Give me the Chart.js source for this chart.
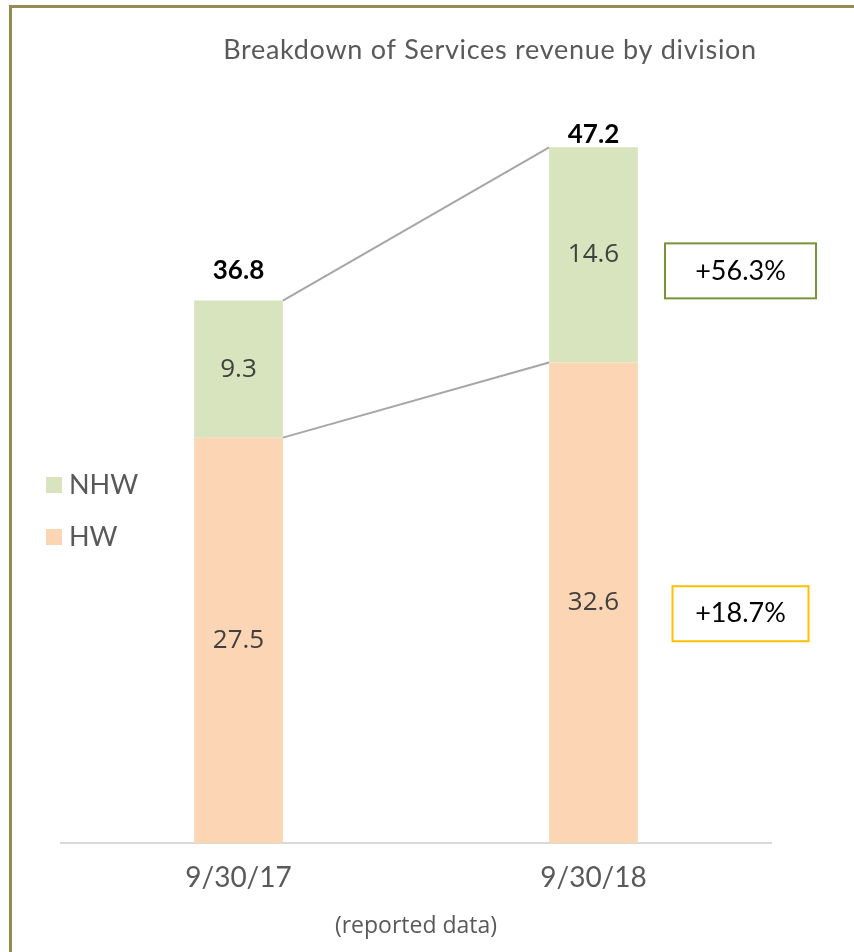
<!DOCTYPE html>
<html>
<head>
<meta charset="utf-8">
<script src="https://cdn.jsdelivr.net/npm/chart.js@4.4.0/dist/chart.umd.min.js"></script>
<style>
  html, body { margin: 0; padding: 0; background: #fff; }
  #wrap { width: 854px; height: 952px; }
</style>
</head>
<body>
<div id="wrap"><canvas id="chart" width="854" height="952"></canvas></div>
<script>
const categories = ['9/30/17', '9/30/18'];
const hwValues = [27.5, 32.6];
const nhwValues = [9.3, 14.6];
const totals = [36.8, 47.2];
const seriesNames = ['HW', 'NHW'];
const growthLabels = ['+18.7%', '+56.3%']; // HW, NHW
const axisMax = 50;

const colors = {
  hw: '#FCD5B5',
  nhw: '#D7E4BD',
  frame: '#948A54',
  text: '#595959',
  label: '#404040',
  connector: '#A6A6A6',
  axis: '#D9D9D9',
  growthBorders: ['#FFC000', '#77933C']
};

// pixel offsets for annotations (layout only)
const totalGap = [30, 13];
const growthBoxOffset = [11, 16];

const decorations = {
  id: 'decorations',
  afterDraw(chart) {
    const ctx = chart.ctx;
    const hw = chart.getDatasetMeta(0).data;
    const nhw = chart.getDatasetMeta(1).data;
    ctx.save();

    // outer frame
    ctx.strokeStyle = colors.frame;
    ctx.lineWidth = 3;
    ctx.strokeRect(10.5, 6.5, 900, 1000);

    // title
    ctx.fillStyle = colors.text;
    ctx.font = '27px Lato';
    ctx.letterSpacing = '0.7px';
    ctx.textAlign = 'center';
    ctx.textBaseline = 'middle';
    ctx.fillText('Breakdown of Services revenue by division', 490, 50);
    ctx.letterSpacing = '0px';

    // connector lines between the bars
    ctx.strokeStyle = colors.connector;
    ctx.lineWidth = 2;
    [hw, nhw].forEach(bars => {
      const a = bars[0], b = bars[1];
      ctx.beginPath();
      ctx.moveTo(a.x + a.width / 2, a.y);
      ctx.lineTo(b.x - b.width / 2, b.y);
      ctx.stroke();
    });

    // segment values
    ctx.fillStyle = colors.label;
    ctx.font = '26px "Open Sans"';
    [hw, nhw].forEach((bars, d) => {
      const vals = d === 0 ? hwValues : nhwValues;
      bars.forEach((bar, i) => {
        ctx.fillText(vals[i].toFixed(1), bar.x, (bar.y + bar.base) / 2);
      });
    });

    // totals
    ctx.fillStyle = '#000';
    ctx.font = 'bold 26px Lato';
    nhw.forEach((bar, i) => {
      ctx.fillText(totals[i].toFixed(1), bar.x, bar.y - totalGap[i]);
    });

    // growth boxes next to the last bar
    const last = categories.length - 1;
    [hw, nhw].forEach((bars, d) => {
      const bar = bars[last];
      const cx = bar.x + 147;
      const cy = (bar.y + bar.base) / 2 + growthBoxOffset[d];
      const w = d === 0 ? 136 : 151;
      ctx.strokeStyle = colors.growthBorders[d];
      ctx.lineWidth = 2;
      ctx.strokeRect(cx - w / 2, cy - 27.5, w, 55);
      ctx.fillStyle = '#000';
      ctx.font = '27px Lato';
      ctx.fillText(growthLabels[d], cx, cy);
    });

    // legend (NHW on top)
    ctx.textAlign = 'left';
    ctx.font = '27px Lato';
    const legendRows = [[1, 485], [0, 537]];
    legendRows.forEach(([d, y]) => {
      ctx.fillStyle = chart.data.datasets[d].backgroundColor;
      ctx.fillRect(46, y - 8, 16, 16);
      ctx.fillStyle = colors.text;
      ctx.fillText(seriesNames[d], 69, y);
    });

    ctx.restore();
  }
};

new Chart(document.getElementById('chart'), {
  type: 'bar',
  data: {
    labels: categories,
    datasets: [
      { label: seriesNames[0], data: hwValues, backgroundColor: colors.hw },
      { label: seriesNames[1], data: nhwValues, backgroundColor: colors.nhw }
    ]
  },
  options: {
    responsive: false,
    animation: false,
    layout: { padding: { left: 61, right: 83, top: 106, bottom: 0 } },
    datasets: { bar: { barPercentage: 0.25, categoryPercentage: 1 } },
    plugins: {
      legend: { display: false },
      tooltip: { enabled: false }
    },
    scales: {
      x: {
        stacked: true,
        grid: { display: false, drawTicks: false },
        border: { display: true, color: colors.axis, width: 2 },
        ticks: { color: colors.text, font: { family: 'Lato', size: 28 }, padding: 18 },
        title: {
          display: true,
          text: '(reported data)',
          color: colors.text,
          font: { family: 'Open Sans', size: 23 },
          padding: { top: 0, bottom: 12 }
        },
        afterFit(scale) { scale.height = 109; }
      },
      y: {
        stacked: true,
        display: false,
        min: 0,
        max: axisMax
      }
    }
  },
  plugins: [decorations]
});
</script>
</body>
</html>
